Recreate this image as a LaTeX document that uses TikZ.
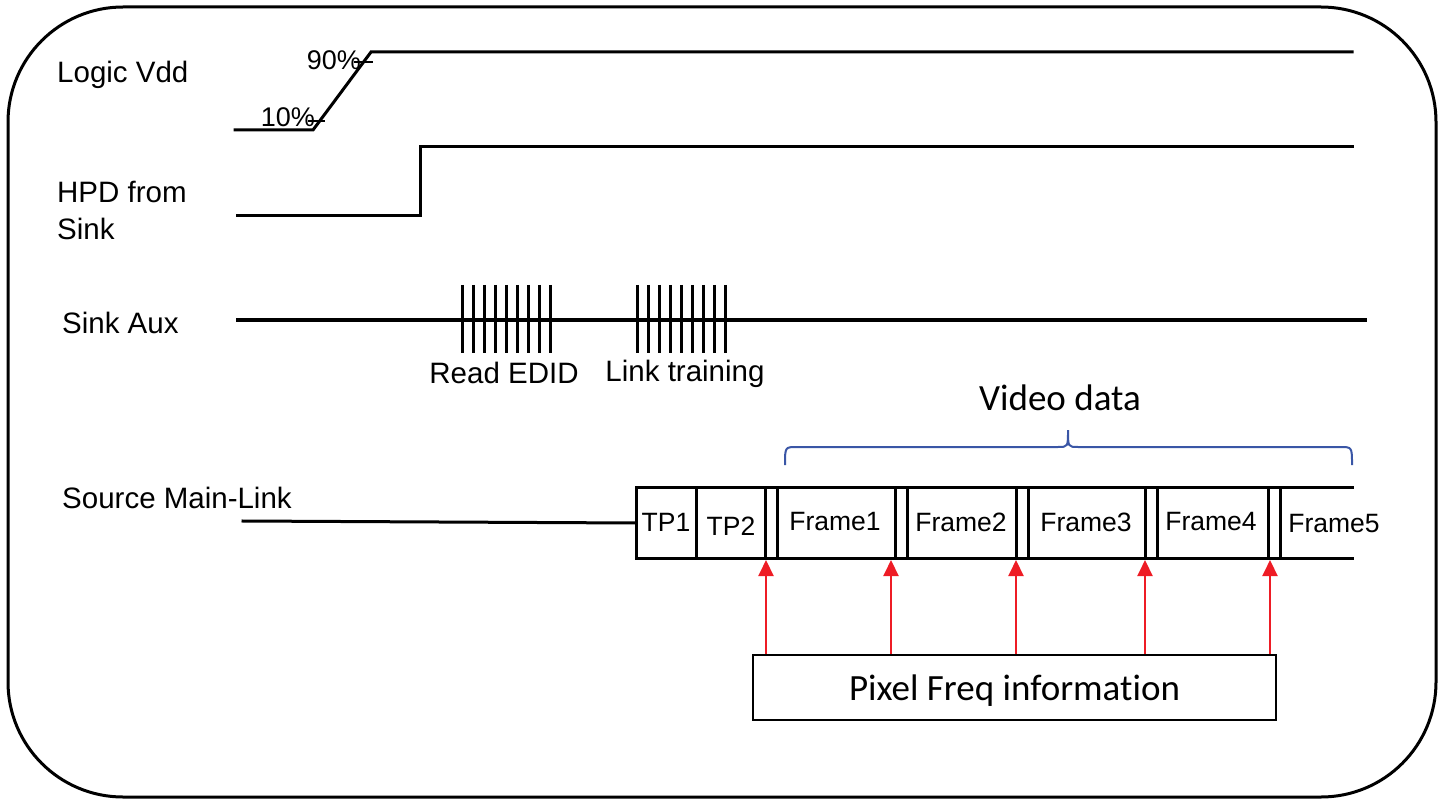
\documentclass[tikz,border=0pt]{standalone}
\usepackage{fontspec}
\setmainfont{Liberation Sans}
\newfontfamily\calfont[Ligatures=NoCommon]{Carlito}
\usetikzlibrary{arrows.meta}
\definecolor{bracecol}{HTML}{3A56A6}
\definecolor{arrred}{HTML}{EE1C25}
\begin{document}
\begin{tikzpicture}[x=1pt,y=-1pt,
  sig/.style={line width=3pt,line cap=rect},
  lbl/.style={font=\fontsize{29.5}{37}\selectfont,inner sep=0pt,anchor=west,align=left},
  pct/.style={font=\fontsize{27}{30}\selectfont,inner sep=0pt},
  frm/.style={font=\fontsize{26.5}{30}\selectfont,inner sep=0pt},
  burstlbl/.style={font=\fontsize{29.5}{34}\selectfont,inner sep=0pt,anchor=base},
  cal/.style={font=\calfont\fontsize{37}{42}\selectfont,inner sep=0pt},
  redarr/.style={draw=arrred,line width=2pt,-{Triangle[width=15pt,length=16pt]},fill=arrred},
  bar/.style={line width=3pt},
  pixbox/.style={draw,line width=2.5pt,minimum width=523pt,minimum height=65pt,inner sep=0pt}
]
\useasboundingbox (0,0) rectangle (1439,799);
% outer frame
\draw[line width=3pt,rounded corners=115pt] (8,7) rectangle (1436,797);

% labels
\node[lbl] (lvdd) at (57,75) {Logic Vdd};
\node[lbl] (hpd) at (57,210) {HPD from\\Sink};
\node[lbl] (aux) at (62,323) {Sink Aux};
\node[lbl] (ml) at (62,498) {Source Main-Link};

% Logic Vdd
\draw[sig] (235,130) -- (313,130) -- (371,52) -- (1352,52);
\draw[line width=2pt] (308,121) -- (325,121);
\draw[line width=2pt] (354,62) -- (373,62);
\node[pct,anchor=east] (p10) at (315,117) {10\%};
\node[pct,anchor=east] (p90) at (361,60) {90\%};

% HPD
\draw[sig] (237,216) -- (420,216) -- (420,147) -- (1352,147);

% Sink Aux
\draw[sig] (237,320) -- (1365,320);
\foreach \i in {0,...,8} {
  \draw[bar] ({462+\i*11},285) -- ({462+\i*11},353);
  \draw[bar] ({637+\i*11},285) -- ({637+\i*11},353);
}
\node[burstlbl] (edid) at (504,383) {Read EDID};
\node[burstlbl] (lt) at (685,381) {Link training};

% Video data brace
\node[cal] (vd) at (1060,398) {Video data};
\draw[bracecol,line width=2pt] (785,465) .. controls (785,447) .. (797,447) -- (1058,447)
  .. controls (1068,447) .. (1068,430) .. controls (1068,447) .. (1078,447) -- (1340,447)
  .. controls (1352,447) .. (1352,465);

% Main link
\draw[sig] (243,521) -- (636,523);
\draw[sig] (1352,487) -- (636,487) -- (636,558) -- (1352,558);
\foreach \x in {696,765,777,895,907,1016,1028,1145,1157,1268,1280} {
  \draw[sig] (\x,487) -- (\x,558);
}
\node[frm] (tp1) at (666,522) {TP1};
\node[frm] (tp2) at (731,526) {TP2};
\node[frm] (f1) at (835,522) {Frame1};
\node[frm] (f2) at (961,522) {Frame2};
\node[frm] (f3) at (1086,522) {Frame3};
\node[frm] (f4) at (1211,522) {Frame4};
\node[frm] (f5) at (1334,524) {Frame5};

% Pixel freq
\node[pixbox] (pix) at (1014.5,687.5) {};
\node[cal,anchor=base] (pixtxt) at (1014.5,700) {Pixel Freq information};
\coordinate (a1) at (766,560);
\coordinate (a2) at (891,560);
\coordinate (a3) at (1016,560);
\coordinate (a4) at (1145,560);
\coordinate (a5) at (1270,560);
\foreach \a in {a1,a2,a3,a4,a5} {
  \draw[redarr] (pix.north -| \a) -- (\a);
}
\end{tikzpicture}
\end{document}
